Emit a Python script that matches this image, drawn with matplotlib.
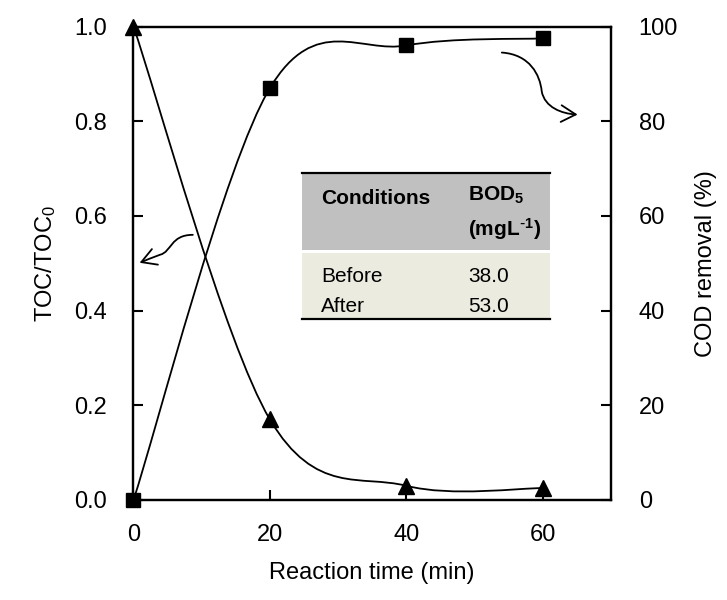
import matplotlib
matplotlib.use('Agg')
import matplotlib.pyplot as plt
from matplotlib.path import Path
from matplotlib.patches import FancyArrowPatch, Rectangle
import numpy as np

plt.rcParams['font.family'] = ['Liberation Sans Narrow', 'Liberation Sans', 'DejaVu Sans']
plt.rcParams['mathtext.default'] = 'regular'

# data
time_min = [0, 20, 40, 60]
toc_ratio = [1.0, 0.17, 0.03, 0.025]
cod_removal = [0, 87, 96, 97.5]

# inset table
tbl_header = ['Conditions', 'BOD$_5$\n(mgL$^{\\text{-}1}$)']
tbl_cond = ['Before', 'After']
tbl_bod = ['38.0', '53.0']


def smooth_path(xs, ys):
    # excel-like smoothed line: cubic bezier through the points
    pts = np.column_stack([xs, ys]).astype(float)
    n = len(pts)
    verts = [pts[0]]
    codes = [Path.MOVETO]
    for i in range(n - 1):
        p0 = pts[max(i - 1, 0)]
        p1 = pts[i]
        p2 = pts[i + 1]
        p3 = pts[min(i + 2, n - 1)]
        c1 = p1 + (p2 - p0) / 6.0
        c2 = p2 - (p3 - p1) / 6.0
        verts += [c1, c2, p2]
        codes += [Path.CURVE4] * 3
    return Path(verts, codes)


fig = plt.figure(figsize=(7.27, 6.0), dpi=100)
ax = fig.add_axes([0.1836, 0.1667, 0.6568, 0.7891])
ax2 = ax.twinx()

# TOC curve (left axis)
ax.add_patch(FancyArrowPatch(path=smooth_path(time_min, toc_ratio), arrowstyle='-',
                             lw=1.3, color='black', transform=ax.transData))
ax.plot(time_min, toc_ratio, linestyle='none', marker='^', ms=11, color='black',
        clip_on=False, zorder=5)

# COD curve (right axis)
ax2.add_patch(FancyArrowPatch(path=smooth_path(time_min, cod_removal), arrowstyle='-',
                              lw=1.3, color='black', transform=ax2.transData))
ax2.plot(time_min, cod_removal, linestyle='none', marker='s', ms=10, color='black',
         clip_on=False, zorder=5)

ax.set_xlim(0, 70)
ax.set_ylim(0, 1.0)
ax2.set_ylim(0, 100)
ax.set_xticks([0, 20, 40, 60])
ax.set_yticks(np.arange(0, 1.01, 0.2))
ax.set_yticklabels(['%.1f' % v for v in np.arange(0, 1.01, 0.2)])
ax2.set_yticks(np.arange(0, 101, 20))

for a in (ax, ax2):
    a.tick_params(direction='in', length=7, width=1.5, labelsize=17)
    for s in a.spines.values():
        s.set_linewidth(1.6)
ax.tick_params(axis='y', pad=19)
ax2.tick_params(axis='y', pad=20)
ax.tick_params(axis='x', pad=17)

ax.set_xlabel('Reaction time (min)', fontsize=17, labelpad=12)
ax.set_ylabel('TOC/TOC$_0$', fontsize=17, labelpad=12)
ax2.set_ylabel('COD removal (%)', fontsize=17, labelpad=12)

# curly arrows pointing to each axis
left_arrow = Path([(8.7, 0.560), (5.4, 0.560), (5.6, 0.524), (3.9, 0.518),
                   (2.7, 0.512), (1.8, 0.506), (0.9, 0.501)],
                  [Path.MOVETO] + [Path.CURVE4] * 6)
ax.add_patch(FancyArrowPatch(path=left_arrow, arrowstyle='->,head_length=0.7,head_width=0.4',
                             mutation_scale=15, lw=1.3, color='black',
                             transform=ax.transData, shrinkA=0, shrinkB=0))
right_arrow = Path([(54.0, 0.945), (58.1, 0.941), (59.6, 0.898), (59.85, 0.863),
                    (60.3, 0.829), (62.8, 0.816), (65.1, 0.814)],
                   [Path.MOVETO] + [Path.CURVE4] * 6)
ax.add_patch(FancyArrowPatch(path=right_arrow, arrowstyle='->,head_length=0.7,head_width=0.4',
                             mutation_scale=15, lw=1.3, color='black',
                             transform=ax.transData, shrinkA=0, shrinkB=0))

# inset table, drawn in axes fraction
tx0, tx1 = 0.353, 0.872
t_top, t_mid, t_bot = 0.690, 0.525, 0.382
ax2.add_patch(Rectangle((tx0, t_mid + 0.004), tx1 - tx0, t_top - t_mid - 0.004,
                        transform=ax2.transAxes, facecolor='#c0c0c0', edgecolor='none', zorder=6))
ax2.add_patch(Rectangle((tx0, t_bot), tx1 - tx0, t_mid - t_bot - 0.004,
                        transform=ax2.transAxes, facecolor='#ecebe0', edgecolor='none', zorder=6))
for yy in (t_top, t_bot):
    ax2.plot([tx0, tx1], [yy, yy], color='black', lw=1.6, transform=ax2.transAxes,
             zorder=7, clip_on=False)

col_x = [0.393, 0.701]
ax2.text(col_x[0], 0.637, tbl_header[0], transform=ax2.transAxes, fontsize=15,
         fontweight='bold', va='center', zorder=8)
ax2.text(col_x[1], 0.605, tbl_header[1], transform=ax2.transAxes, fontsize=15,
         fontweight='bold', va='center', linespacing=1.5, zorder=8)
row_y = [0.472, 0.408]
for cond, bod, yy in zip(tbl_cond, tbl_bod, row_y):
    ax2.text(col_x[0], yy, cond, transform=ax2.transAxes, fontsize=15, va='center', zorder=8)
    ax2.text(col_x[1], yy, bod, transform=ax2.transAxes, fontsize=15, va='center', zorder=8)

fig.savefig('out.png', dpi=100)
